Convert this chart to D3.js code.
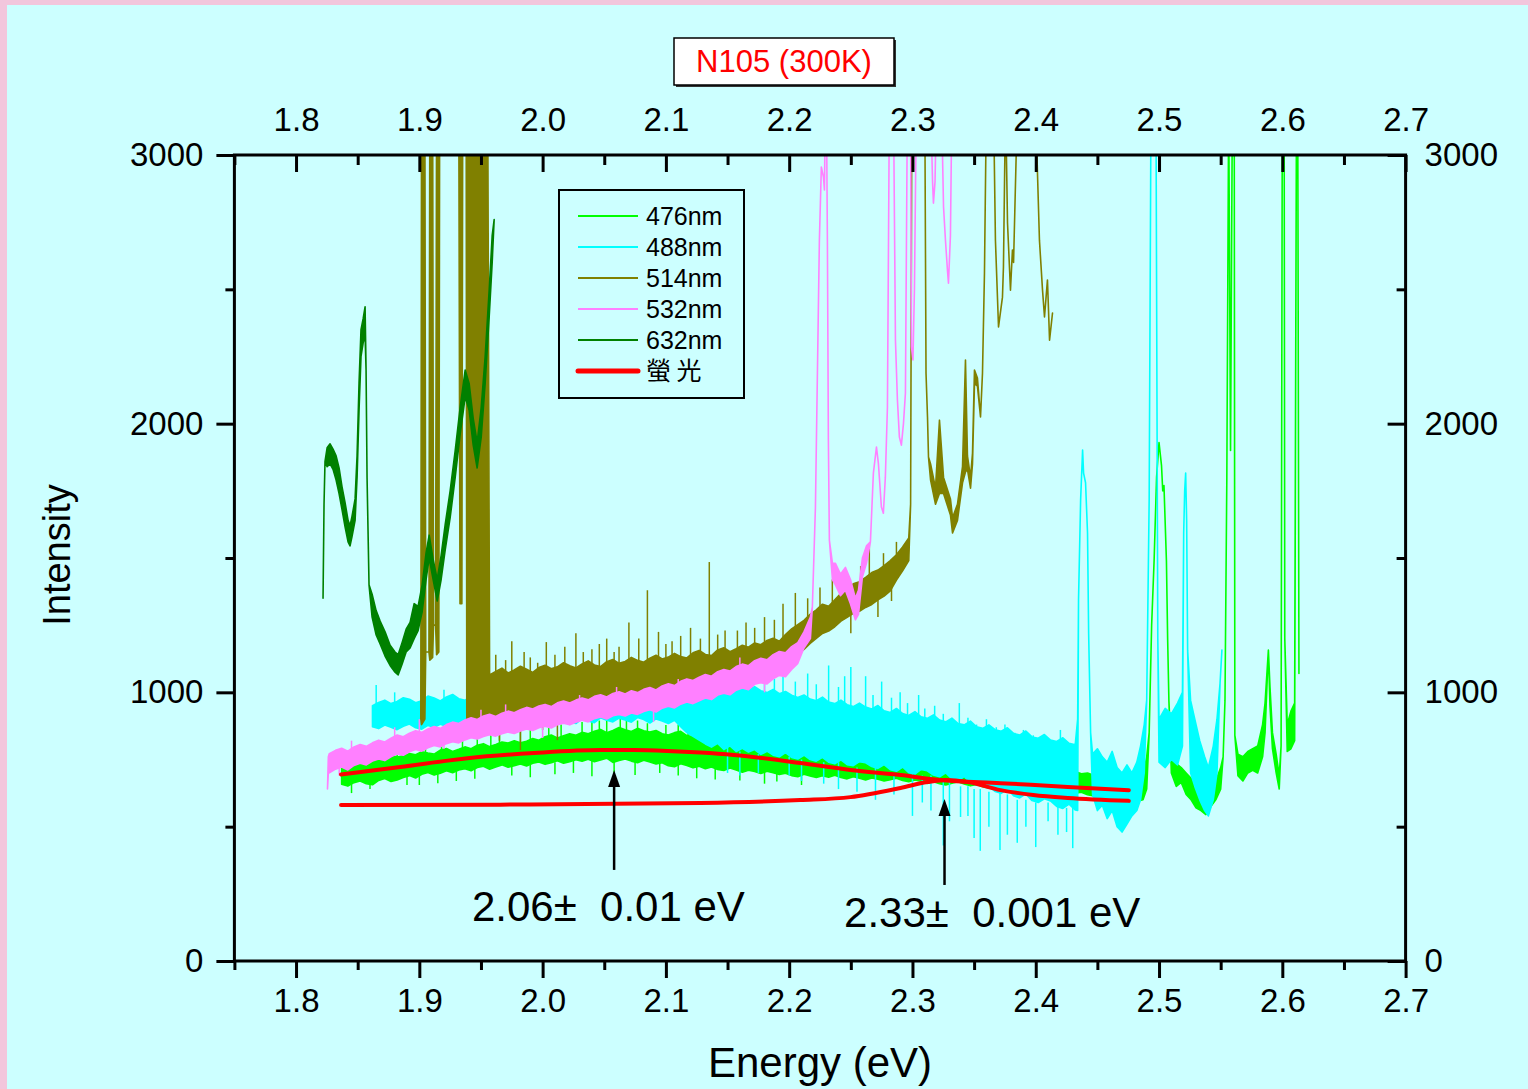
<!DOCTYPE html>
<html>
<head>
<meta charset="utf-8">
<script src="https://cdn.jsdelivr.net/npm/d3@7"></script>
<style>
body { margin: 0; background: #f2c6dc; overflow: hidden; }
svg { display: block; }
text { font-family: "Liberation Sans", Arial, sans-serif; }
</style>
</head>
<body>
<svg id="chart" width="1530" height="1089"></svg>
<script>
// ---- data ----
var STEP = 0.005;   // energy step of the noisy bands

// 476nm : noisy band, then the peaks past 2.48 eV
var e0_476 = 1.837;
var hi476 = [735, 742, 748, 739, 752, 758, 747, 755, 766, 759,
             764, 772, 768, 779, 774, 770, 785, 791, 780, 788,
             797, 790, 803, 809, 798, 806, 815, 811, 820, 812,
             818, 828, 822, 835, 841, 830, 838, 846, 840, 851,
             846, 855, 862, 850, 858, 869, 861, 854, 866, 857,
             852, 858, 846, 841, 850, 855, 839, 835, 846, 838,
             832, 836, 824, 819, 828, 822, 811, 816, 808, 803,
             810, 806, 796, 799, 792, 801, 789, 784, 791, 786,
             781, 787, 776, 772, 780, 774, 767, 771, 765, 760,
             768, 763, 757, 762, 753, 749, 757, 750, 744, 748,
             741, 747, 736, 731, 739, 733, 726, 730, 724, 719,
             727, 721, 714, 718, 710, 706, 713, 704, 699, 705,
             697, 700, 691, 686, 693, 684, 679, 685, 676, 670];
var lo476 = [658, 651, 664, 670, 660, 656, 672, 679, 668, 674,
             683, 690, 681, 695, 702, 692, 699, 708, 701, 711,
             716, 708, 720, 725, 714, 722, 730, 721, 727, 733,
             726, 736, 741, 732, 738, 745, 736, 742, 749, 744,
             751, 742, 748, 755, 739, 746, 752, 744, 738, 747,
             741, 733, 738, 727, 723, 734, 728, 719, 725, 716,
             722, 713, 709, 718, 711, 703, 710, 705, 698, 706,
             701, 694, 699, 690, 686, 695, 689, 683, 690, 684,
             691, 683, 678, 686, 680, 674, 681, 677, 670, 675,
             680, 672, 667, 674, 669, 661, 667, 660, 655, 662,
             667, 659, 652, 657, 649, 644, 651, 643, 638, 645,
             648, 640, 635, 641, 630, 626, 633, 624, 619, 625,
             628, 619, 614, 620, 611, 606, 612, 603, 598, 595];
var tail476 = [[2.487, 600, 690], [2.490, 640, 760], [2.492, 850], [2.494, 1250], [2.496, 1490],
               [2.498, 1800], [2.500, 1930], [2.502, 1845], [2.503, 1750], [2.504, 1770], [2.506, 1490],
               [2.507, 1195], [2.508, 970], [2.510, 700, 760], [2.514, 650, 735], [2.518, 665, 720],
               [2.522, 620, 700], [2.526, 600, 680], [2.530, 570, 640], [2.534, 560, 630], [2.538, 545, 610],
               [2.542, 575, 640], [2.546, 600, 670], [2.550, 640, 720], [2.552, 760], [2.5535, 970],
               [2.555, 1800], [2.5565, 3200], [2.558, 1900], [2.5595, 3200], [2.561, 3200], [2.5615, 840],
               [2.564, 690, 770], [2.568, 670, 760], [2.572, 700, 780], [2.576, 710, 790], [2.580, 700, 800],
               [2.584, 760, 880], [2.586, 850, 960], [2.5887, 1157], [2.590, 950, 1020], [2.592, 790, 850],
               [2.595, 700, 770], [2.5975, 640, 690], [2.599, 800], [2.600, 3200], [2.6015, 3200], [2.602, 1200],
               [2.604, 780, 880], [2.607, 790, 930], [2.610, 820, 960], [2.6115, 3200], [2.6125, 3200], [2.6135, 1070]];
var spikes476 = [[1.87, 740, 800], [1.905, 760, 815], [1.935, 780, 840], [1.965, 790, 860], [1.99, 800, 870],
                 [2.015, 810, 880], [2.04, 830, 905], [2.052, 840, 915], [2.068, 840, 900], [2.085, 830, 885],
                 [2.11, 820, 880], [2.135, 800, 860], [2.17, 780, 835], [2.24, 760, 810], [2.29, 740, 790],
                 [1.852, 740, 782], [1.882, 750, 797], [1.918, 770, 828], [1.947, 780, 845], [1.958, 790, 850],
                 [1.982, 800, 855], [2.005, 810, 872], [2.032, 820, 890], [2.046, 830, 895], [2.063, 840, 925],
                 [2.077, 835, 895], [2.1, 825, 878], [2.118, 815, 870], [2.145, 800, 852], [2.155, 795, 860],
                 [2.185, 780, 825], [2.2, 770, 820],
                 [1.845, 680, 625], [1.9, 720, 655], [1.93, 720, 670], [1.975, 740, 690], [2.025, 750, 700],
                 [2.058, 760, 690], [2.095, 750, 700], [2.125, 730, 680], [2.16, 720, 672], [2.21, 700, 655],
                 [1.86, 690, 640], [1.89, 700, 655], [1.915, 710, 662], [1.945, 725, 678], [1.99, 735, 684],
                 [2.01, 740, 695], [2.04, 745, 688], [2.075, 745, 692], [2.11, 735, 690], [2.14, 720, 676],
                 [2.18, 705, 660], [2.19, 700, 668]];

// 488nm
var e0_488 = 1.862;
var hi488 = [950, 962, 971, 958, 966, 980, 974, 961, 969, 986,
             979, 968, 983, 992, 976, 970, 987, 995, 981, 974,
             990, 998, 984, 979, 995, 1003, 988, 993, 1001, 985,
             996, 1008, 1001, 991, 1005, 1014, 997, 1003, 1012, 1000,
             1006, 1018, 1010, 1001, 1015, 1025, 1012, 1007, 1022, 1030,
             1016, 1026, 1038, 1024, 1019, 1033, 1041, 1027, 1020, 1035,
             1024, 1012, 1021, 1006, 999, 1011, 995, 1003, 989, 981,
             990, 975, 969, 982, 964, 958, 971, 954, 947, 960,
             945, 938, 951, 931, 925, 940, 921, 914, 928, 909,
             903, 916, 897, 890, 904, 884, 879, 893, 872, 866,
             879, 861, 855, 868, 847, 841, 856, 834, 829, 843,
             822, 817, 831, 810, 805];
var lo488 = [872, 865, 878, 870, 861, 874, 882, 868, 863, 877,
             870, 881, 874, 862, 876, 885, 871, 866, 880, 873,
             886, 878, 872, 889, 881, 876, 892, 884, 879, 895,
             887, 898, 891, 884, 902, 893, 887, 905, 896, 890,
             904, 897, 889, 906, 899, 886, 901, 893, 884, 896,
             872, 850, 836, 822, 808, 796, 810, 787, 801, 780,
             792, 778, 787, 769, 781, 766, 760, 776, 758, 752,
             766, 750, 744, 758, 740, 734, 749, 731, 727, 742,
             738, 724, 717, 731, 712, 706, 722, 701, 696, 713,
             708, 692, 686, 700, 678, 670, 687, 662, 656, 672,
             650, 631, 624, 640, 615, 607, 622, 597, 590, 604,
             596, 575, 568, 584, 562];
var tail488 = [[2.434, 560, 900], [2.4347, 1344], [2.4364, 1716], [2.4380, 1902], [2.4388, 1816],
               [2.4404, 1780], [2.4420, 1593], [2.4429, 1220], [2.4445, 850], [2.4461, 620, 770],
               [2.450, 560, 790], [2.454, 580, 760], [2.458, 530, 740], [2.462, 560, 780], [2.466, 500, 720],
               [2.470, 480, 700], [2.474, 510, 730], [2.478, 540, 700], [2.482, 560, 740], [2.485, 600, 800],
               [2.488, 700, 880], [2.490, 971], [2.492, 1716], [2.4935, 3200], [2.4975, 3200], [2.4990, 1200],
               [2.500, 740, 900], [2.505, 720, 940], [2.510, 750, 920], [2.515, 730, 960], [2.519, 800, 1000],
               [2.5200, 1593], [2.5208, 1750], [2.5216, 1816], [2.5224, 1640], [2.5232, 1157],
               [2.5256, 700, 970], [2.529, 650, 900], [2.533, 600, 820], [2.537, 560, 760], [2.540, 540, 720],
               [2.544, 600, 800], [2.547, 700, 900], [2.5495, 1034], [2.551, 1157]];
var spikes488 = [[1.865, 930, 1027], [1.88, 940, 1000], [1.92, 950, 1010], [2.09, 980, 1130], [2.135, 1000, 1100],
                 [2.16, 990, 1090], [2.18, 980, 1080], [2.195, 960, 1120], [2.215, 950, 1070], [2.232, 940, 1100],
                 [2.25, 920, 1094], [2.262, 900, 1060], [2.275, 900, 1040], [2.29, 880, 1000], [2.305, 870, 990],
                 [2.318, 860, 950], [2.338, 830, 960], [2.36, 820, 900], [2.375, 800, 880], [2.39, 790, 860],
                 [2.41, 780, 830], [2.42, 770, 860],
                 [2.125, 1010, 1090], [2.142, 1010, 1070], [2.17, 1000, 1060], [2.188, 990, 1050], [2.205, 970, 1040],
                 [2.222, 960, 1030], [2.24, 940, 1020], [2.245, 935, 1060], [2.268, 920, 990], [2.283, 900, 980],
                 [2.296, 890, 960], [2.31, 880, 940], [2.325, 860, 920], [2.345, 840, 905], [2.352, 840, 880],
                 [2.368, 820, 870], [2.383, 810, 850], [2.398, 800, 840],
                 [2.15, 800, 700], [2.2, 760, 690], [2.24, 740, 640], [2.27, 720, 600], [2.3, 700, 540],
                 [2.315, 690, 560], [2.325, 680, 430], [2.339, 650, 536], [2.35, 640, 458], [2.355, 640, 410],
                 [2.371, 630, 413], [2.377, 620, 470], [2.385, 600, 440], [2.4, 590, 424], [2.418, 580, 470], [2.43, 570, 420],
                 [2.16, 780, 690], [2.175, 770, 700], [2.21, 750, 670], [2.228, 740, 660], [2.255, 720, 630],
                 [2.285, 700, 620], [2.308, 690, 590], [2.33, 670, 520], [2.345, 650, 540], [2.362, 630, 500],
                 [2.392, 600, 500], [2.41, 590, 520], [2.425, 570, 480]];

// 514nm
var head514 = [[1.9012, 900], [1.9018, 880, 3200], [1.9045, 900, 3200], [1.9052, 1150], [1.9078, 1150],
               [1.9085, 1120, 3200], [1.9108, 1130, 3200], [1.9115, 1250], [1.9132, 1250], [1.9140, 1140, 3200],
               [1.9158, 1150, 3200], [1.9165, 3200], [1.9320, 3200], [1.9330, 1330, 3200],
               [1.9345, 1330, 3200], [1.9352, 3200], [1.9380, 3200], [1.9385, 900, 3200], [1.9470, 880, 3200],
               [1.9555, 900, 3200]];
var e0_514 = 1.957;
var hi514 = [1065, 1078, 1090, 1072, 1083, 1097, 1086, 1074, 1092, 1101,
             1088, 1095, 1110, 1099, 1091, 1106, 1117, 1102, 1096, 1114,
             1122, 1108, 1115, 1130, 1119, 1112, 1127, 1138, 1124, 1131,
             1145, 1133, 1128, 1147, 1156, 1141, 1137, 1158, 1166, 1151,
             1162, 1175, 1168, 1184, 1177, 1193, 1201, 1190, 1215, 1236,
             1252, 1268, 1290, 1307, 1328, 1320, 1344, 1369, 1385, 1404,
             1412, 1428, 1446, 1455, 1472, 1490, 1512, 1541, 1575];
var lo514 = [898, 906, 917, 910, 902, 921, 928, 915, 924, 935,
             927, 940, 948, 936, 944, 957, 949, 941, 960, 968,
             957, 966, 979, 971, 963, 984, 991, 978, 986, 999,
             990, 1004, 996, 1011, 1019, 1005, 1014, 1026, 1018, 1031,
             1024, 1040, 1048, 1059, 1052, 1075, 1081, 1097, 1108, 1125,
             1141, 1160, 1182, 1201, 1219, 1228, 1244, 1265, 1279, 1294,
             1302, 1316, 1327, 1344, 1358, 1378, 1418, 1452, 1490];
var tail514 = [[2.2985, 1700], [2.2995, 3200], [2.3100, 3200], [2.3110, 2188], [2.3122, 2025], [2.3130, 1876],
               [2.3147, 1790, 1850], [2.3187, 1700, 1760], [2.3219, 1740, 2013], [2.3252, 1740, 1800],
               [2.3308, 1660, 1720], [2.3325, 1593, 1650], [2.3365, 1640, 1700], [2.3406, 1780, 1840],
               [2.3430, 1820, 2237], [2.3446, 1830, 1880], [2.3471, 1760, 1800], [2.3487, 1850, 1890],
               [2.3503, 2150, 2200], [2.3527, 2140, 2170], [2.3552, 2025], [2.3568, 2188], [2.3584, 2560],
               [2.3600, 3200], [2.3657, 3200], [2.3673, 2683], [2.3698, 2360], [2.3730, 2471], [2.3738, 2583],
               [2.3755, 3200], [2.3771, 2747], [2.3795, 2497], [2.3811, 2646], [2.3820, 2600], [2.3852, 3200],
               [2.3998, 3200], [2.4014, 2933], [2.4030, 2683], [2.4055, 2497], [2.4071, 2397], [2.4095, 2535],
               [2.4112, 2311], [2.4136, 2412]];
var spikes514 = [[1.962, 1000, 1140], [1.975, 1010, 1190], [1.99, 1020, 1130], [2.003, 1040, 1187], [2.01, 1040, 1140],
                 [2.027, 1050, 1220], [2.04, 1060, 1160], [2.052, 1070, 1200], [2.062, 1080, 1170], [2.07, 1080, 1260],
                 [2.085, 1090, 1380], [2.094, 1100, 1225], [2.105, 1110, 1190], [2.12, 1120, 1240], [2.1352, 1130, 1485],
                 [2.148, 1140, 1230], [2.165, 1150, 1260], [2.18, 1170, 1280], [2.195, 1200, 1330], [2.205, 1230, 1370],
                 [2.235, 1300, 1420], [2.265, 1400, 1555], [2.2765, 1430, 1518],
                 [1.97, 1000, 1120], [1.985, 1010, 1150], [1.996, 1020, 1110], [2.018, 1040, 1170], [2.033, 1050, 1150],
                 [2.046, 1060, 1180], [2.058, 1070, 1150], [2.078, 1085, 1200], [2.1, 1100, 1180], [2.112, 1110, 1210],
                 [2.128, 1120, 1200], [2.142, 1130, 1215], [2.158, 1145, 1230], [2.172, 1160, 1240], [2.188, 1180, 1270],
                 [2.215, 1260, 1350], [2.225, 1290, 1390], [2.245, 1340, 1440], [2.258, 1380, 1470], [2.287, 1450, 1560],
                 [1.965, 960, 820], [1.982, 960, 785], [2.0, 960, 860], [2.012, 980, 822], [2.04, 1000, 900],
                 [2.07, 1020, 930], [2.25, 1320, 1220], [2.272, 1370, 1280], [2.283, 1420, 1340]];

// 532nm
var head532 = [[1.8255, 640], [1.8262, 700, 760]];
var e0_532 = 1.827;
var hi532 = [772, 784, 792, 781, 797, 806, 799, 812, 822, 815,
             829, 841, 835, 848, 857, 851, 864, 873, 866, 880,
             889, 884, 897, 905, 899, 912, 918, 910, 922, 930,
             924, 935, 944, 938, 949, 955, 947, 961, 968, 960,
             971, 979, 972, 985, 991, 983, 996, 1002, 994, 1006,
             999, 1011, 1018, 1009, 1024, 1032, 1025, 1041, 1050, 1044,
             1056, 1066, 1060, 1077, 1085, 1079, 1096, 1105, 1099, 1118,
             1127, 1121, 1140, 1152, 1147, 1170, 1185, 1225];
var lo532 = [700, 714, 722, 711, 728, 736, 730, 744, 752, 746,
             760, 771, 766, 779, 787, 781, 794, 802, 797, 809,
             816, 812, 823, 831, 826, 836, 842, 837, 846, 852,
             847, 856, 864, 858, 868, 874, 867, 879, 885, 879,
             889, 896, 890, 902, 908, 901, 913, 918, 912, 923,
             918, 929, 935, 927, 941, 948, 942, 956, 964, 958,
             969, 979, 973, 990, 997, 991, 1008, 1016, 1010, 1030,
             1036, 1031, 1050, 1063, 1058, 1085, 1108, 1165];
var tail532 = [[2.2172, 1200, 1280], [2.2188, 1318], [2.2213, 1690], [2.2229, 2188], [2.2245, 2683], [2.2261, 2955],
               [2.2278, 2918], [2.2286, 2870], [2.2294, 3200], [2.2302, 3200], [2.2310, 2683], [2.2318, 1940],
               [2.2326, 1567], [2.2351, 1420, 1480], [2.2375, 1400, 1480], [2.2416, 1360, 1440], [2.2456, 1380, 1465],
               [2.2497, 1330, 1420], [2.2537, 1270, 1350], [2.2562, 1290, 1380], [2.2594, 1430, 1500],
               [2.2627, 1480, 1545], [2.2659, 1560], [2.2683, 1816], [2.2708, 1913], [2.2724, 1850], [2.2748, 1690],
               [2.2764, 1667], [2.2780, 1800], [2.2797, 2062], [2.2813, 3200], [2.2846, 3200], [2.2862, 2311],
               [2.2878, 2088], [2.2894, 1950], [2.2910, 1920], [2.2927, 2000], [2.2943, 2114], [2.2959, 3200],
               [2.2984, 3200], [2.2992, 2286], [2.3004, 2237], [2.3016, 2500], [2.3032, 3200], [2.3147, 3200],
               [2.3163, 2900], [2.3170, 2821], [2.3183, 2900], [2.3195, 3200], [2.3235, 3200], [2.3252, 2807],
               [2.3268, 2680], [2.3284, 2570], [2.3292, 2523], [2.3308, 2700], [2.3320, 3200]];
var spikes532 = [[1.88, 830, 870], [1.95, 880, 935], [2.03, 940, 990], [2.11, 990, 1050], [1.86, 790, 745],
                 [1.845, 760, 820], [1.9, 840, 900], [1.97, 900, 955], [2.06, 960, 1020], [2.16, 1060, 1130],
                 [1.835, 720, 690], [1.92, 830, 790], [2.0, 870, 830], [2.09, 930, 890], [2.18, 1040, 1000]];

// 632nm
var s632 = [[1.8219, 1350], [1.8227, 1700], [1.8235, 1860], [1.8252, 1840, 1910], [1.8276, 1850, 1925],
            [1.8300, 1830, 1905], [1.8325, 1790, 1880], [1.8349, 1740, 1835], [1.8373, 1680, 1765],
            [1.8398, 1615, 1705], [1.8422, 1560, 1640], [1.8438, 1545, 1620], [1.8454, 1580, 1655],
            [1.8479, 1640, 1720], [1.8495, 1800, 1880], [1.8511, 2050, 2150], [1.8527, 2250, 2350],
            [1.8544, 2300, 2390], [1.8560, 2330, 2435], [1.8568, 2200], [1.8576, 1800], [1.8584, 1600],
            [1.8592, 1400], [1.8617, 1280, 1365], [1.8649, 1215, 1305], [1.8682, 1180, 1265], [1.8722, 1135, 1225],
            [1.8763, 1100, 1175], [1.8803, 1075, 1150], [1.8828, 1065, 1140], [1.8860, 1105, 1185],
            [1.8893, 1150, 1235], [1.8925, 1165, 1260], [1.8958, 1200, 1330], [1.8990, 1230, 1320],
            [1.9023, 1300, 1400], [1.9055, 1420, 1520], [1.9080, 1500, 1585], [1.9112, 1420, 1495],
            [1.9145, 1340, 1420], [1.9177, 1420, 1510], [1.9210, 1530, 1625], [1.9250, 1650, 1750],
            [1.9291, 1800, 1900], [1.9331, 1960, 2060], [1.9372, 2100, 2200], [1.9404, 2050, 2150],
            [1.9437, 1920, 2020], [1.9469, 1835, 1930], [1.9502, 1950, 2060], [1.9534, 2150, 2250],
            [1.9567, 2400, 2500], [1.9591, 2600, 2700], [1.9607, 2760]];

// fitted luminescence curves
var fitA = [[1.8365, 694], [1.8845, 722], [1.939, 755], [1.993, 774], [2.047, 785], [2.074, 785], [2.101, 782],
            [2.128, 776], [2.155, 767], [2.209, 737], [2.2497, 711], [2.2903, 692], [2.3222, 674], [2.3714, 662],
            [2.426, 648], [2.4755, 636]];
var fitB = [[1.8365, 581], [1.9656, 582], [2.128, 588], [2.209, 599], [2.2497, 610], [2.2903, 644], [2.312, 666],
            [2.327, 674], [2.345, 666], [2.3714, 636], [2.398, 618], [2.426, 607], [2.4755, 596]];

// arrows and their labels
var arrowE = [2.058, 2.326];
var arrowTip = [711, 603];
var arrowTail = [339, 283];
var noteText = ["2.06\u00b1  0.01 eV", "2.33\u00b1  0.001 eV"];
var noteE = [1.9427, 2.2445];
var noteV = [149, 127];

var legendNames = ["476nm", "488nm", "514nm", "532nm", "632nm", "螢 光"];
var legendColors = ["#00ff00", "#00ffff", "#808000", "#ff80ff", "#008000", "#ff0000"];

var xMajor = [1.8, 1.9, 2.0, 2.1, 2.2, 2.3, 2.4, 2.5, 2.6, 2.7];
var xMinor = [1.75, 1.85, 1.95, 2.05, 2.15, 2.25, 2.35, 2.45, 2.55, 2.65];
var yMajor = [0, 1000, 2000, 3000];
var yMinor = [500, 1500, 2500];

// ---- helpers ----
var band = function(e0, lo, hi) {
    return lo.map(function(v, i) { return [+(e0 + i * STEP).toFixed(4), v, hi[i]]; });
};
var norm = function(list) {
    return list.map(function(p) { return p.length == 2 ? [p[0], p[1], p[1]] : p; });
};

var series = [
    {color: "#00ff00", pts: band(e0_476, lo476, hi476).concat(norm(tail476)), spikes: spikes476},
    {color: "#00ffff", pts: band(e0_488, lo488, hi488).concat(norm(tail488)), spikes: spikes488},
    {color: "#808000", pts: norm(head514).concat(band(e0_514, lo514, hi514), norm(tail514)), spikes: spikes514},
    {color: "#ff80ff", pts: norm(head532).concat(band(e0_532, lo532, hi532), norm(tail532)), spikes: spikes532},
    {color: "#008000", pts: norm(s632), spikes: []}
];

// ---- layout ----
var pLeft = 234.4, pRight = 1405.6, pTop = 155, pBottom = 961;
var svg = d3.select("#chart");

svg.append("rect").attr("x", 0).attr("y", 0).attr("width", 1530).attr("height", 1089).attr("fill", "#f2c6dc");
svg.append("rect").attr("x", 7).attr("y", 5).attr("width", 1521).attr("height", 1084).attr("fill", "#ccffff");

var x = d3.scaleLinear().domain([1.75, 2.7]).range([pLeft, pRight]);
var y = d3.scaleLinear().domain([0, 3000]).range([pBottom, pTop]);

svg.append("clipPath").attr("id", "plotclip")
    .append("rect").attr("x", pLeft).attr("y", pTop).attr("width", pRight - pLeft).attr("height", pBottom - pTop);

var plot = svg.append("g").attr("clip-path", "url(#plotclip)");

var area = d3.area()
    .x(function(d) { return x(d[0]); })
    .y0(function(d) { return y(d[1]); })
    .y1(function(d) { return y(d[2]); });

series.forEach(function(s) {
    var g = plot.append("g");
    g.append("path")
        .attr("d", area(s.pts))
        .attr("fill", s.color)
        .attr("stroke", s.color)
        .attr("stroke-width", 1.6)
        .attr("stroke-linejoin", "round");
    g.selectAll("line")
        .data(s.spikes)
        .enter().append("line")
        .attr("x1", function(d) { return x(d[0]); })
        .attr("x2", function(d) { return x(d[0]); })
        .attr("y1", function(d) { return y(d[1]); })
        .attr("y2", function(d) { return y(d[2]); })
        .attr("stroke", s.color)
        .attr("stroke-width", 1.5);
});

var fitLine = d3.line()
    .x(function(d) { return x(d[0]); })
    .y(function(d) { return y(d[1]); })
    .curve(d3.curveMonotoneX);

[fitA, fitB].forEach(function(f) {
    plot.append("path")
        .attr("d", fitLine(f))
        .attr("fill", "none")
        .attr("stroke", "#ff0000")
        .attr("stroke-width", 4)
        .attr("stroke-linecap", "round");
});

// arrows
arrowE.forEach(function(e, i) {
    var ax = x(e), tipY = y(arrowTip[i]);
    svg.append("line")
        .attr("x1", ax).attr("x2", ax)
        .attr("y1", y(arrowTail[i])).attr("y2", tipY + 12)
        .attr("stroke", "#000").attr("stroke-width", 2.5);
    svg.append("path")
        .attr("d", "M" + ax + "," + tipY + "L" + (ax - 6) + "," + (tipY + 17) + "L" + (ax + 6) + "," + (tipY + 17) + "Z")
        .attr("fill", "#000");
});

svg.selectAll(".note")
    .data(noteText)
    .enter().append("text")
    .attr("class", "note")
    .attr("x", function(d, i) { return x(noteE[i]); })
    .attr("y", function(d, i) { return y(noteV[i]); })
    .style("white-space", "pre")
    .attr("font-size", 42)
    .attr("fill", "#000")
    .text(function(d) { return d; });

// ---- axes ----
var styleAxis = function(g) {
    g.select(".domain").remove();
    g.selectAll(".tick line").attr("stroke", "#000").attr("stroke-width", 3);
    g.selectAll(".tick text").attr("fill", "#000").attr("font-size", 33)
        .attr("font-family", "'Liberation Sans', Arial, sans-serif");
};

svg.append("g").attr("transform", "translate(0," + pBottom + ")")
    .call(d3.axisBottom(x).tickValues(xMajor).tickSize(17).tickPadding(11).tickFormat(d3.format(".1f")))
    .call(styleAxis);
svg.append("g").attr("transform", "translate(0," + pBottom + ")")
    .call(d3.axisBottom(x).tickValues(xMinor).tickSize(9).tickFormat(""))
    .call(styleAxis);
svg.append("g").attr("transform", "translate(0," + pTop + ")")
    .call(d3.axisTop(x).tickValues(xMajor).tickSize(-17).tickPadding(24).tickFormat(d3.format(".1f")))
    .call(styleAxis);
svg.append("g").attr("transform", "translate(0," + pTop + ")")
    .call(d3.axisTop(x).tickValues(xMinor).tickSize(-10).tickFormat(""))
    .call(styleAxis);
svg.append("g").attr("transform", "translate(" + pLeft + ",0)")
    .call(d3.axisLeft(y).tickValues(yMajor).tickSize(18).tickPadding(13).tickFormat(d3.format("d")))
    .call(styleAxis);
svg.append("g").attr("transform", "translate(" + pLeft + ",0)")
    .call(d3.axisLeft(y).tickValues(yMinor).tickSize(9).tickFormat(""))
    .call(styleAxis);
svg.append("g").attr("transform", "translate(" + pRight + ",0)")
    .call(d3.axisRight(y).tickValues(yMajor).tickSize(-18).tickPadding(19).tickFormat(d3.format("d")))
    .call(styleAxis);
svg.append("g").attr("transform", "translate(" + pRight + ",0)")
    .call(d3.axisRight(y).tickValues(yMinor).tickSize(-9).tickFormat(""))
    .call(styleAxis);

svg.append("rect")
    .attr("x", pLeft).attr("y", pTop)
    .attr("width", pRight - pLeft).attr("height", pBottom - pTop)
    .attr("fill", "none").attr("stroke", "#000").attr("stroke-width", 3);

// axis titles
svg.append("text")
    .attr("x", 820).attr("y", 1077)
    .attr("text-anchor", "middle").attr("font-size", 42)
    .text("Energy (eV)");
svg.append("text")
    .attr("transform", "translate(70,555) rotate(-90)")
    .attr("text-anchor", "middle").attr("font-size", 38)
    .text("Intensity");

// title box
svg.append("rect").attr("x", 676).attr("y", 40).attr("width", 220).attr("height", 47).attr("fill", "#333");
svg.append("rect").attr("x", 674).attr("y", 38).attr("width", 220).attr("height", 47)
    .attr("fill", "#fff").attr("stroke", "#000").attr("stroke-width", 1.5);
svg.append("text")
    .attr("x", 784).attr("y", 72)
    .attr("text-anchor", "middle").attr("font-size", 31).attr("fill", "#ff0000")
    .text("N105 (300K)");

// legend
var legend = svg.append("g");
legend.append("rect").attr("x", 559).attr("y", 190).attr("width", 185).attr("height", 208)
    .attr("fill", "#ccffff").attr("stroke", "#000").attr("stroke-width", 2);
var item = legend.selectAll(".item")
    .data(legendNames)
    .enter().append("g")
    .attr("class", "item")
    .attr("transform", function(d, i) { return "translate(0," + (216 + 31 * i) + ")"; });
item.append("line")
    .attr("x1", 578).attr("x2", 638)
    .attr("stroke", function(d, i) { return legendColors[i]; })
    .attr("stroke-width", function(d, i) { return i == 5 ? 5 : 2; })
    .attr("stroke-linecap", function(d, i) { return i == 5 ? "round" : "butt"; });
item.append("text")
    .attr("x", 646).attr("y", 9)
    .attr("font-size", 25)
    .style("white-space", "pre")
    .style("font-family", function(d, i) { return i == 5 ? "'Noto Sans CJK TC', sans-serif" : null; })
    .text(function(d) { return d; });
</script>
</body>
</html>
